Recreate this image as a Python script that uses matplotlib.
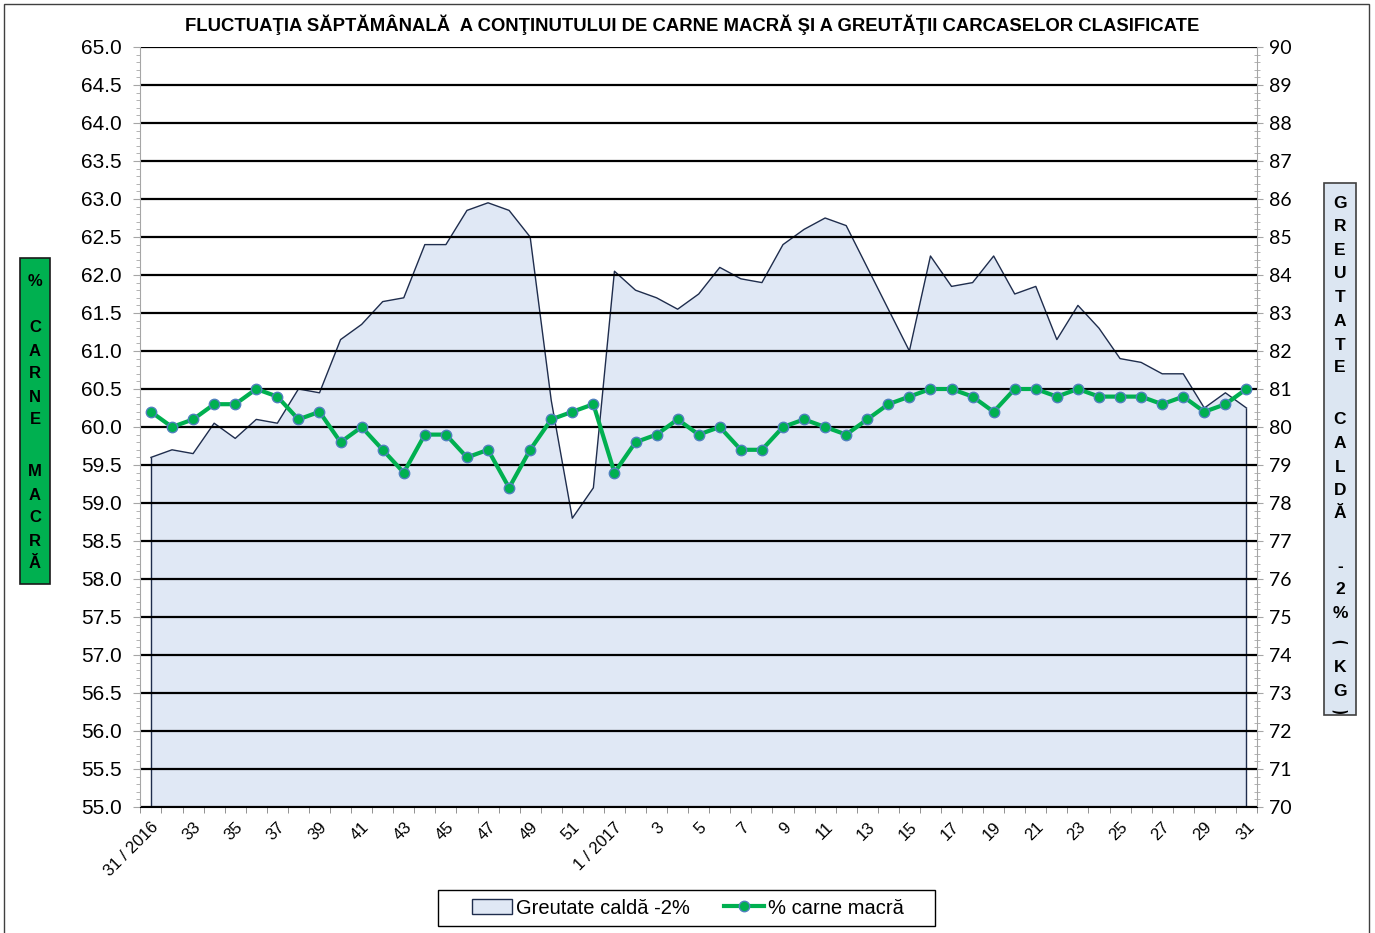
import matplotlib; matplotlib.use("Agg")
import matplotlib.pyplot as plt
import numpy as np
from matplotlib.patches import Rectangle
from matplotlib.lines import Line2D
from matplotlib.ticker import MultipleLocator, FormatStrFormatter

plt.rcParams["font.family"] = ["Liberation Sans", "DejaVu Sans"]

# --- data (weeks 31/2016 .. 31/2017) ---
weeks_2016 = list(range(31, 53))
weeks_2017 = list(range(1, 32))
greutate = [79.2, 79.4, 79.3, 80.1, 79.7, 80.2, 80.1, 81.0, 80.9, 82.3,
            82.7, 83.3, 83.4, 84.8, 84.8, 85.7, 85.9, 85.7, 85.0, 80.7,
            77.6, 78.4, 84.1, 83.6, 83.4, 83.1, 83.5, 84.2, 83.9, 83.8,
            84.8, 85.2, 85.5, 85.3, 84.2, 83.1, 82.0, 84.5, 83.7, 83.8,
            84.5, 83.5, 83.7, 82.3, 83.2, 82.6, 81.8, 81.7, 81.4, 81.4,
            80.5, 80.9, 80.5]
carne = [60.2, 60.0, 60.1, 60.3, 60.3, 60.5, 60.4, 60.1, 60.2, 59.8,
         60.0, 59.7, 59.4, 59.9, 59.9, 59.6, 59.7, 59.2, 59.7, 60.1,
         60.2, 60.3, 59.4, 59.8, 59.9, 60.1, 59.9, 60.0, 59.7, 59.7,
         60.0, 60.1, 60.0, 59.9, 60.1, 60.3, 60.4, 60.5, 60.5, 60.4,
         60.2, 60.5, 60.5, 60.4, 60.5, 60.4, 60.4, 60.4, 60.3, 60.4,
         60.2, 60.3, 60.5]

weeks = weeks_2016 + weeks_2017
x = np.arange(len(weeks))
tick_labels = []
for i, w in enumerate(weeks):
    if i == 0:
        tick_labels.append(f"{w} / 2016")
    elif i == len(weeks_2016):
        tick_labels.append(f"{w} / 2017")
    else:
        tick_labels.append(str(w))

AREA_FC = "#E0E8F5"
AREA_EC = "#1F2D4D"
GREEN = "#00B050"

W, H = 1375, 933
fig = plt.figure(figsize=(W / 100, H / 100), dpi=100)
ax = fig.add_axes([140 / W, 1 - 807 / H, (1257 - 140) / W, (807 - 47) / H])
ax2 = ax.twinx()
ax.set_zorder(ax2.get_zorder() + 1)
ax.patch.set_visible(False)

# area on right axis
ax2.fill_between(x, 70, greutate, facecolor=AREA_FC, edgecolor="none", zorder=1)
ax2.plot(x, greutate, color=AREA_EC, lw=1.0, zorder=2)
ax2.vlines([x[0], x[-1]], 70, [greutate[0], greutate[-1]], color=AREA_EC, lw=1.0, zorder=2)
ax2.set_ylim(70, 90)

ax.set_ylim(55, 65)
ax.set_xlim(-0.52, 52.4)
for v in np.arange(55, 65.01, 0.5):
    ax.axhline(v, color="black", lw=1.6, zorder=1)
ax.plot(x, carne, color=GREEN, lw=3, marker="o", ms=7.5, mfc=GREEN, mec="#4F81BD",
        mew=1, zorder=3)

for a in (ax, ax2):
    a.spines["top"].set_visible(False)
ax.spines["right"].set_visible(False)
ax2.spines["left"].set_visible(False)
ax2.spines["bottom"].set_visible(False)
ax.spines["left"].set_color("#A6A6A6")
ax2.spines["right"].set_color("#A6A6A6")
ax.spines["bottom"].set_color("black")

# left axis
ax.yaxis.set_major_locator(MultipleLocator(0.5))
ax.yaxis.set_minor_locator(MultipleLocator(0.1))
ax.yaxis.set_major_formatter(FormatStrFormatter("%.1f"))
ax.tick_params(axis="y", which="major", length=5, color="#A6A6A6", pad=8, labelsize=15)
ax.tick_params(axis="y", which="minor", length=3, color="#A6A6A6")

# right axis
ax2.yaxis.set_major_locator(MultipleLocator(1))
ax2.yaxis.set_minor_locator(MultipleLocator(0.2))
ax2.tick_params(axis="y", which="major", direction="inout", length=8, color="#A6A6A6", pad=5)
ax2.tick_params(axis="y", which="minor", direction="inout", length=5, color="#A6A6A6")
for t in ax2.get_yticklabels():
    t.set_fontfamily(["Lato", "DejaVu Sans"])
    t.set_fontsize(14)

# x axis
ax.set_xticks(x[::2], tick_labels[::2], rotation=45, ha="right", rotation_mode="anchor",
              fontsize=12)
ax.set_xticks(np.arange(-0.5, len(weeks), 1), minor=True)
ax.tick_params(axis="x", which="major", length=0, pad=9)
ax.tick_params(axis="x", which="minor", length=4, color="#808080")

# title
fig.text(692 / W, 1 - 25 / H,
         "FLUCTUAŢIA SĂPTĂMÂNALĂ  A CONŢINUTULUI DE CARNE MACRĂ ŞI A GREUTĂŢII CARCASELOR CLASIFICATE",
         ha="center", va="center", fontsize=13.3, fontweight="bold",
         family=["Liberation Sans Narrow", "Liberation Sans", "DejaVu Sans"])

# side label boxes
def side_box(x0, y0, x1, y1, fc, ec, letters, ys, fs):
    fig.add_artist(Rectangle((x0 / W, 1 - y1 / H), (x1 - x0) / W, (y1 - y0) / H,
                             transform=fig.transFigure, fc=fc, ec=ec, lw=1.2))
    cx = (x0 + x1) / 2
    for ch, yy in zip(letters, ys):
        fig.text(cx / W, 1 - yy / H, ch, ha="center", va="center", fontsize=fs,
                 fontweight="bold", family=["Liberation Sans", "DejaVu Sans"])

side_box(20, 258, 50, 584, GREEN, "#1A1A1A",
         list("%CARNEMACRĂ"),
         [282, 328, 351, 374, 397, 420, 472, 495, 518, 541, 564], 12)
side_box(1324, 183, 1356, 715, "#DCE6F2", "#404040",
         list("GREUTATECALDĂ-2%") + ["⁀", "K", "G", "‿"],
         [203, 227, 250, 274, 298, 322, 345, 368, 420, 443, 467, 490, 513,
          567, 590, 614, 653, 668, 692, 706], 12.5)

# outer frame
fig.add_artist(Rectangle((4 / W, -0.02), 1365 / W, (933 - 4) / H + 0.02,
                         transform=fig.transFigure, fill=False, ec="#404040", lw=1,
                         clip_on=False))

# legend (frame drawn separately for wider padding)
fig.add_artist(Rectangle((438 / W, 1 - 926 / H), (935 - 438) / W, 36 / H,
                         transform=fig.transFigure, fc="white", ec="black", lw=1.0))
handles = [Rectangle((0, 0), 1, 1, fc=AREA_FC, ec=AREA_EC, lw=1),
           Line2D([], [], color=GREEN, lw=3, marker="o", ms=7.5, mfc=GREEN, mec="#4F81BD")]
leg = fig.legend(handles, ["Greutate caldă -2%", "% carne macră"], loc="center",
                 bbox_to_anchor=(688 / W, 1 - 908 / H), ncol=2, fontsize=14.5,
                 frameon=False, handlelength=2.0, handletextpad=0.2, columnspacing=1.7)

fig.savefig("out.png", dpi=100)
